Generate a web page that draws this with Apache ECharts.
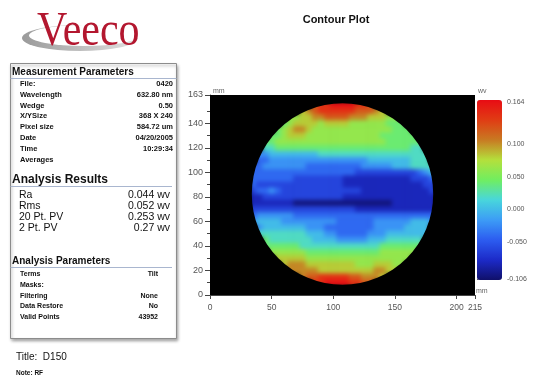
<!DOCTYPE html>
<html>
<head>
<meta charset="utf-8">
<script src="https://cdn.jsdelivr.net/npm/echarts@6/dist/echarts.min.js"></script>
<style>
  html, body { margin: 0; padding: 0; background: #fff; }
  #wrap { position: relative; width: 537px; height: 380px; }
  #base, #field, #mask { position: absolute; left: 0; top: 0; width: 537px; height: 380px; }
  #field { filter: blur(2px); }
</style>
</head>
<body>
<div id="wrap"><div id="base"></div><div id="field"></div><div id="mask"></div></div>
<script>
// ---- axis ticks -------------------------------------------------------------
const xTicks = [0, 50, 100, 150, 200, 215];
const yTicks = [0, 20, 40, 60, 80, 100, 120, 140, 163];
const barTicks = [-0.106, -0.05, 0, 0.05, 0.1, 0.164];
const waveMin = -0.106;
const waveMax = 0.164;

// ---- surface map (wv), 5 mm cells ------------------------------------------
// cell centres: rows from y = 155 mm down to y = 10 mm, columns x = 35..180 mm
const rowY = [155, 150, 145, 140, 135, 130, 125, 120, 115, 110, 105, 100, 95, 90, 85,
              80, 75, 70, 65, 60, 55, 50, 45, 40, 35, 30, 25, 20, 15, 10];
const colX = [35, 40, 45, 50, 55, 60, 65, 70, 75, 80, 85, 90, 95, 100, 105,
              110, 115, 120, 125, 130, 135, 140, 145, 150, 155, 160, 165, 170, 175, 180];
// height level of each cell, written in groups of five columns ('.' = outside the aperture)
const levelValue = {
  '0': -0.10, '1': -0.08, '2': -0.06, '3': -0.04, '4': -0.02, '5': 0.00, '6': 0.02,
  '7': 0.04, '8': 0.06, '9': 0.08, 'A': 0.10, 'B': 0.12, 'C': 0.14, 'D': 0.16
};
const surfaceRows = [
  '..... ..... BCCDD DDCCB ..... .....',  // 155
  '..... ...9A BCCCC CCBBB A9... .....',  // 150
  '..... .8899 AABBB BAAA9 9988. .....',  // 145
  '..... 78999 98999 98888 88777 .....',  // 140
  '....7 89AA9 88888 88888 88877 7....',  // 135
  '...77 89998 88888 88888 87777 77...',  // 130
  '..778 88888 88888 88888 88777 777..',  // 125
  '..667 77777 77777 77777 77777 766..',  // 120
  '.4455 55555 56666 66666 66666 6666.',  // 115
  '.3344 44444 44444 44445 55555 5666.',  // 110
  '33444 44443 33333 33344 44455 56666',  // 105
  '33333 33333 33333 33222 22222 22345',  // 100
  '33333 33222 22222 11111 11111 12223',  // 95
  '32222 22222 22222 11111 11111 11122',  // 90
  '23343 22222 22222 22211 11111 11112',  // 85
  '11222 22222 22222 11111 11111 11111',  // 80
  '11111 11000 00000 00000 00011 11111',  // 75
  '22222 22222 22222 22111 11111 11111',  // 70
  '34444 44333 33333 33333 33333 33333',  // 65
  '45555 44444 44443 33333 44444 45554',  // 60
  '.4555 55554 44333 33333 44444 5555.',  // 55
  '.6666 66665 55443 33334 44555 5555.',  // 50
  '..766 66666 55554 44445 55666 666..',  // 45
  '..777 77766 66666 66666 67777 777..',  // 40
  '...88 88887 77777 77777 78888 88...',  // 35
  '....9 99998 88888 88888 88888 8....',  // 30
  '..... 9AAA9 99999 99888 99988 .....',  // 25
  '..... .AAAA A9999 99999 AA99. .....',  // 20
  '..... ...AB BCCCC CBBAA A9... .....',  // 15
  '..... ..... CCDDD DCCBB ..... .....'   // 10
];
// measured aperture: centre x, centre y, radius, outer reach of the surrounding mask (mm)
const aperture = [107.5, 82.3, 73.6, 140];

// ---- report panel text ------------------------------------------------------
const measureLabels = ['File:', 'Wavelength', 'Wedge', 'X/YSize', 'Pixel size', 'Date', 'Time', 'Averages'];
const measureValues = ['0420', '632.80 nm', '0.50', '368 X 240', '584.72 um', '04/20/2005', '10:29:34', ''];
const resultLabels = ['Ra', 'Rms', '20 Pt. PV', '2 Pt. PV'];
const resultValues = ['0.044 wv', '0.052 wv', '0.253 wv', '0.27 wv'];
const paramLabels = ['Terms', 'Masks:', 'Filtering', 'Data Restore', 'Valid Points'];
const paramValues = ['Tilt', '', 'None', 'No', '43952'];

// ---- colour ramp ------------------------------------------------------------
const rampColors = ['#10106a', '#1c2ac8', '#2c5cf0', '#3c9cf6', '#48d6dc',
                    '#70ee60', '#b4e03c', '#c87a22', '#e03c14', '#e80c14'];

const FONT = "'Liberation Sans', Arial, sans-serif";

function txt(x, y, text, size, opt) {
  opt = opt || {};
  const align = opt.align || 'left';
  return {
    type: 'text', x: x, y: y, silent: true,
    scaleX: opt.scaleX || 1,
    style: {
      text: text,
      font: (opt.weight || 'normal') + ' ' + size + 'px ' + (opt.family || FONT),
      fill: opt.color || '#111',
      align: align, textAlign: align,
      verticalAlign: 'middle', textVerticalAlign: 'middle'
    }
  };
}
function hline(x1, x2, y, color) {
  return { type: 'line', silent: true, shape: { x1: x1, y1: y, x2: x2, y2: y },
           style: { stroke: color, lineWidth: 1 } };
}

// ---- panel graphics ---------------------------------------------------------
const graphics = [];
// logo swoosh
graphics.push({
  type: 'circle', x: 80, y: 38, scaleX: 58 / 13, scaleY: 1, silent: true,
  shape: { cx: 0, cy: 0, r: 13 },
  style: { fill: { type: 'linear', x: 0, y: 0, x2: 1, y2: 0,
    colorStops: [{ offset: 0, color: '#9a9a9a' }, { offset: 1, color: '#e2e2e2' }] } }
});
graphics.push({
  type: 'circle', x: 84, y: 35.5, scaleX: 55 / 10.5, scaleY: 1, silent: true,
  shape: { cx: 0, cy: 0, r: 10.5 }, style: { fill: '#fff' }
});
graphics.push(txt(37, 32, 'Veeco', 48, { family: "'Liberation Serif', serif", color: '#b3172f', scaleX: 0.875 }));

// chart heading
graphics.push(txt(336, 20, 'Contour Plot', 11, { weight: 'bold', align: 'center' }));

// report box
graphics.push({
  type: 'rect', silent: true, shape: { x: 10.5, y: 63.5, width: 166, height: 275 },
  style: { fill: '#fff', stroke: '#8c8c8c', lineWidth: 1,
           shadowBlur: 3, shadowOffsetX: 1, shadowOffsetY: 2, shadowColor: 'rgba(0,0,0,0.35)' }
});
graphics.push(txt(12, 72.5, 'Measurement Parameters', 10, { weight: 'bold' }));
graphics.push(hline(10.5, 176.5, 78.5, '#a9b6cf'));
measureLabels.forEach(function (s, i) {
  graphics.push(txt(20, 84 + i * 10.8, s, 7.5, { weight: 'bold' }));
  graphics.push(txt(173, 84 + i * 10.8, measureValues[i], 7.5, { weight: 'bold', align: 'right' }));
});
graphics.push(txt(12, 179.5, 'Analysis Results', 12, { weight: 'bold' }));
graphics.push(hline(10.5, 172, 186.5, '#a9b6cf'));
resultLabels.forEach(function (s, i) {
  graphics.push(txt(19, 195 + i * 11, s, 10.5));
  graphics.push(txt(170, 195 + i * 11, resultValues[i], 10.5, { align: 'right' }));
});
graphics.push(txt(12, 261.5, 'Analysis Parameters', 10, { weight: 'bold' }));
graphics.push(hline(10.5, 172, 267.5, '#a9b6cf'));
paramLabels.forEach(function (s, i) {
  graphics.push(txt(20, 274 + i * 10.8, s, 7, { weight: 'bold' }));
  graphics.push(txt(158, 274 + i * 10.8, paramValues[i], 7, { weight: 'bold', align: 'right' }));
});
graphics.push(txt(16, 357, 'Title:  D150', 10));
graphics.push(txt(16, 373, 'Note: RF', 6.5, { weight: 'bold' }));

// axis units
graphics.push(txt(213, 91, 'mm', 7, { color: '#666' }));
graphics.push(txt(476, 291, 'mm', 7, { color: '#666' }));
graphics.push(txt(478, 91, 'wv', 7, { color: '#666' }));

// ---- base chart: axes, colour bar, report ----------------------------------
const base = echarts.init(document.getElementById('base'));
base.setOption({
  backgroundColor: '#fff',
  animation: false,
  grid: [
    { left: 210, top: 95, width: 265, height: 200, show: true, backgroundColor: '#000',
      borderWidth: 0, outerBoundsMode: 'none' },
    { left: 477, top: 102, width: 25, height: 177, show: false, outerBoundsMode: 'none' }
  ],
  xAxis: [
    { gridIndex: 0, type: 'value', min: 0, max: 215, interval: 50,
      axisLine: { show: true, lineStyle: { color: '#444' } },
      axisTick: { show: true, length: 4, customValues: xTicks, lineStyle: { color: '#444' } },
      axisLabel: { customValues: xTicks, fontSize: 8.5, color: '#555', margin: 8, fontFamily: FONT },
      splitLine: { show: false } },
    { gridIndex: 1, type: 'value', min: 0, max: 1, show: false }
  ],
  yAxis: [
    { gridIndex: 0, type: 'value', min: 0, max: 163, interval: 20,
      axisLine: { show: true, lineStyle: { color: '#444' } },
      axisTick: { show: true, length: 5, customValues: yTicks, lineStyle: { color: '#444' } },
      minorTick: { show: true, splitNumber: 2, length: 3, lineStyle: { color: '#444' } },
      axisLabel: { customValues: yTicks, fontSize: 9, color: '#555', margin: 7, fontFamily: FONT },
      splitLine: { show: false } },
    { gridIndex: 1, type: 'value', position: 'right', min: waveMin, max: waveMax,
      axisLine: { show: false },
      axisTick: { show: true, length: 3, customValues: barTicks, lineStyle: { color: '#555' } },
      axisLabel: { customValues: barTicks, fontSize: 7, color: '#555', margin: 5, fontFamily: FONT,
                   formatter: function (v) { return v.toFixed(3); } },
      splitLine: { show: false } }
  ],
  visualMap: {
    type: 'continuous', min: waveMin, max: waveMax, calculable: false, show: true,
    left: 472, top: 95, padding: 5, itemWidth: 25, itemHeight: 180,
    inRange: { color: rampColors }
  },
  graphic: graphics,
  series: []
});

// ---- surface layer (softened) ----------------------------------------------
const cells = [];
surfaceRows.forEach(function (row, r) {
  const levels = row.replace(/ /g, '');
  for (let c = 0; c < colX.length; c++) {
    const ch = levels[c];
    if (!ch || ch === '.') continue;
    cells.push([colX[c], rowY[r], levelValue[ch]]);
  }
});

function drawCell(params, api) {
  const p = api.coord([api.value(0) - 2.5, api.value(1) + 2.5]);
  const s = api.size([5, 5]);
  return { type: 'rect', shape: { x: p[0], y: p[1], width: s[0] + 0.6, height: s[1] + 0.6 },
           style: { fill: api.visual('color') } };
}
function drawAperture(params, api) {
  const c = api.coord([api.value(0), api.value(1)]);
  return { type: 'ring',
           shape: { cx: c[0], cy: c[1], r0: api.size([api.value(2), 0])[0], r: api.size([api.value(3), 0])[0] },
           style: { fill: '#000' } };
}

const plotGrid = { left: 210, top: 95, width: 265, height: 200, show: false, outerBoundsMode: 'none' };

const field = echarts.init(document.getElementById('field'));
field.setOption({
  animation: false,
  grid: plotGrid,
  xAxis: { type: 'value', min: 0, max: 215, show: false },
  yAxis: { type: 'value', min: 0, max: 163, show: false },
  visualMap: { type: 'continuous', show: false, min: waveMin, max: waveMax, seriesIndex: 0,
               dimension: 2, inRange: { color: rampColors } },
  series: [
    { type: 'custom', data: cells, renderItem: drawCell, encode: { x: 0, y: 1 }, silent: true }
  ]
});

// ---- aperture mask (sharp edge) --------------------------------------------
const mask = echarts.init(document.getElementById('mask'));
mask.setOption({
  animation: false,
  grid: plotGrid,
  xAxis: { type: 'value', min: 0, max: 215, show: false },
  yAxis: { type: 'value', min: 0, max: 163, show: false },
  series: [
    { type: 'custom', data: [aperture], renderItem: drawAperture, encode: { x: 0, y: 1 },
      clip: true, silent: true }
  ]
});
</script>
</body>
</html>
